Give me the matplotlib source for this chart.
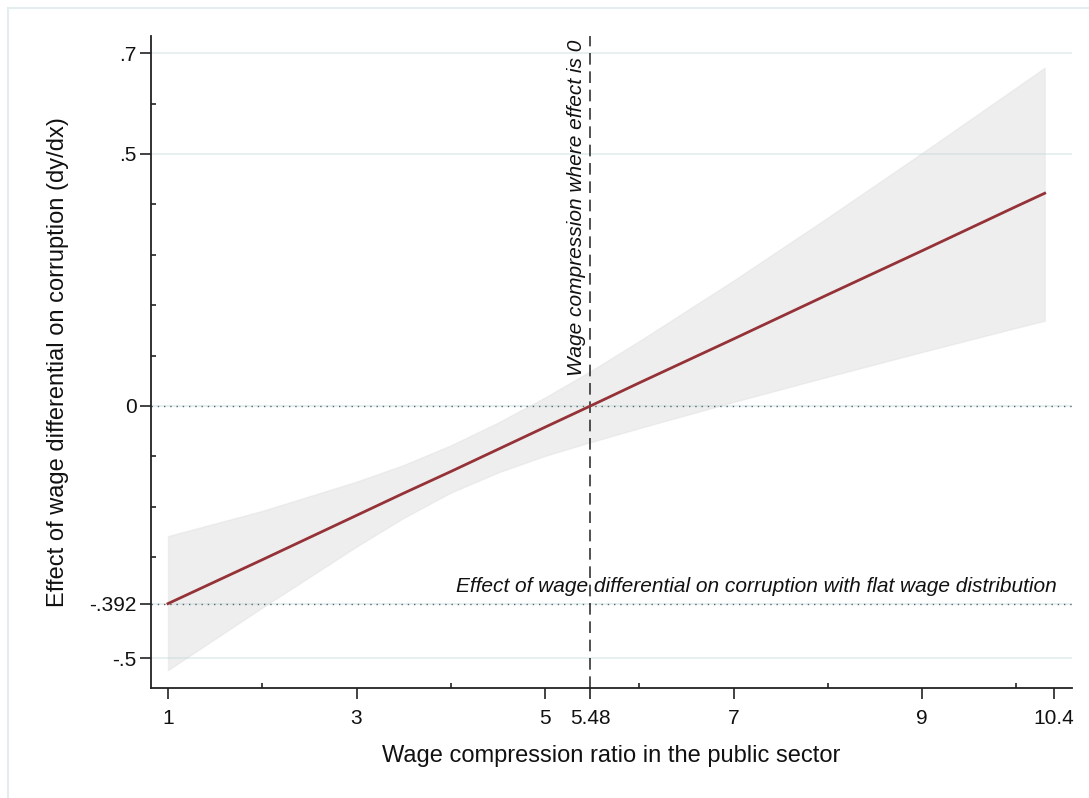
import numpy as np
import matplotlib
matplotlib.use("Agg")
import matplotlib.pyplot as plt
import matplotlib.ticker as mticker
from matplotlib.patches import Rectangle

plt.rcParams['font.family'] = ['Liberation Sans', 'DejaVu Sans']

# marginal effect of wage differential over the wage compression ratio
wage_ratio = [1, 2, 3, 3.5, 4, 4.5, 5, 5.48, 6, 7, 8, 9, 10, 10.3]
effect = [-0.392, -0.305, -0.217, -0.173, -0.130, -0.086, -0.042, 0.0,
          0.046, 0.133, 0.221, 0.308, 0.396, 0.422]
ci_upper = [-0.258, -0.208, -0.150, -0.117, -0.078, -0.033, 0.017, 0.069,
            0.129, 0.249, 0.374, 0.502, 0.632, 0.671]
ci_lower = [-0.524, -0.400, -0.279, -0.222, -0.172, -0.132, -0.099, -0.072,
            -0.044, 0.008, 0.058, 0.107, 0.155, 0.169]

zero_point = 5.48
flat_effect = -0.392

x_ticks = [1, 3, 5, 5.48, 7, 9, 10.4]
x_ticklabels = ['1', '3', '5', '5.48', '7', '9', '10.4']
x_minor = [2, 4, 6, 8, 10]
y_ticks = [-0.5, -0.392, 0, 0.5, 0.7]
y_ticklabels = ['-.5', '-.392', '0', '.5', '.7']
y_minor = [-0.3, -0.2, -0.1, 0.1, 0.2, 0.3, 0.4, 0.6]

fig = plt.figure(figsize=(10.89, 7.98), dpi=100)
ax = fig.add_axes([0.1384, 0.1378, 0.846, 0.8171])

# light outer frame like the stata graph region
fig.patches.append(Rectangle((8 / 1089, -0.2), 1.2, 1.2 - 8 / 798, transform=fig.transFigure,
                             fill=False, edgecolor='#e4ecee', linewidth=1.5, zorder=0))

ax.set_xlim(0.8165, 10.59)
ax.set_ylim(-0.5595, 0.734)

for yv in y_ticks:
    ax.axhline(yv, color='#e6eef0', linewidth=1.3, zorder=0)

ax.fill_between(wage_ratio, ci_lower, ci_upper, color='#c8c8c8', alpha=0.3,
                edgecolor='#d6d6d6', linewidth=1.0, zorder=1)
ax.plot(wage_ratio, effect, color='#953237', linewidth=2.0, zorder=3)

ax.axhline(0, color='#4f6b70', linestyle=(0, (1, 3.5)), linewidth=1.0, zorder=2)
ax.axhline(flat_effect, color='#4f6b70', linestyle=(0, (1, 3.5)), linewidth=1.0, zorder=2)
ax.axvline(zero_point, color='#333333', linestyle=(0, (7, 4)), linewidth=1.2, zorder=2)

ax.text(5.393, 0.0595, 'Wage compression where effect is 0', rotation=90,
        rotation_mode='anchor', ha='left', va='baseline', fontsize=15, style='italic',
        color='#111111')
ax.text(10.43, -0.3685, 'Effect of wage differential on corruption with flat wage distribution',
        ha='right', va='baseline', fontsize=15, style='italic', color='#111111')

ax.spines['top'].set_visible(False)
ax.spines['right'].set_visible(False)
for s in ['left', 'bottom']:
    ax.spines[s].set_color('#222222')
    ax.spines[s].set_linewidth(1.3)

ax.xaxis.set_major_locator(mticker.FixedLocator(x_ticks))
ax.xaxis.set_major_formatter(mticker.FixedFormatter(x_ticklabels))
ax.xaxis.set_minor_locator(mticker.FixedLocator(x_minor))
ax.yaxis.set_major_locator(mticker.FixedLocator(y_ticks))
ax.yaxis.set_major_formatter(mticker.FixedFormatter(y_ticklabels))
ax.yaxis.set_minor_locator(mticker.FixedLocator(y_minor))

ax.tick_params(which='major', direction='out', length=8, width=1.2, color='#222222',
               labelsize=15, labelcolor='#111111')
ax.tick_params(axis='x', which='major', pad=7)
ax.tick_params(axis='y', which='major', pad=2)
ax.tick_params(which='minor', direction='in', length=3.5, width=1.2, color='#222222')

ax.set_xlabel('Wage compression ratio in the public sector', fontsize=17, color='#111111')
ax.set_ylabel('Effect of wage differential on corruption (dy/dx)', fontsize=17, color='#111111')
ax.xaxis.set_label_coords(0.5, -0.087)
ax.yaxis.set_label_coords(-0.0887, 0.5)

fig.savefig('out.png', dpi=100)
